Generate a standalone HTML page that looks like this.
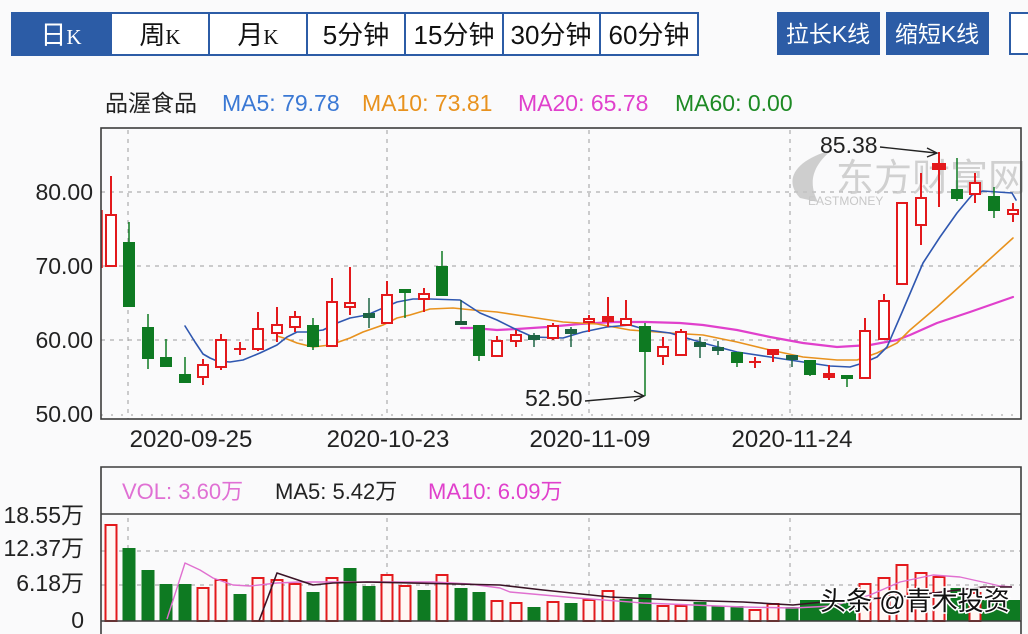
<!DOCTYPE html>
<html><head><meta charset="utf-8"><style>
html,body{margin:0;padding:0;background:#fafafb;}
body{width:1028px;height:634px;overflow:hidden;}
svg{display:block;}
text{font-family:"Liberation Sans","Noto Sans CJK SC",sans-serif;}
</style></head><body>
<svg width="1028" height="634" viewBox="0 0 1028 634" xmlns="http://www.w3.org/2000/svg">
<rect x="0" y="0" width="1028" height="634" fill="#fafafb"/>

<!-- Tabs -->
<g>
<rect x="12" y="13" width="686" height="42" fill="#fff" stroke="#2c5ca6" stroke-width="2"/>
<rect x="12" y="13" width="99" height="42" fill="#2c5ca6"/>
<g stroke="#2c5ca6" stroke-width="2">
<line x1="111" y1="13" x2="111" y2="55"/><line x1="209" y1="13" x2="209" y2="55"/>
<line x1="307" y1="13" x2="307" y2="55"/><line x1="405" y1="13" x2="405" y2="55"/>
<line x1="503" y1="13" x2="503" y2="55"/><line x1="600" y1="13" x2="600" y2="55"/>
</g>
<g font-size="26" text-anchor="middle">
<text x="61" y="44" fill="#fff">日<tspan font-family="Liberation Serif" font-size="21">K</tspan></text>
<text x="160" y="44" fill="#111">周<tspan font-family="Liberation Serif" font-size="21">K</tspan></text>
<text x="258" y="44" fill="#111">月<tspan font-family="Liberation Serif" font-size="21">K</tspan></text>
<text x="356" y="44" fill="#111">5分钟</text>
<text x="454" y="44" fill="#111">15分钟</text>
<text x="551" y="44" fill="#111">30分钟</text>
<text x="649" y="44" fill="#111">60分钟</text>
</g>
<rect x="777" y="12" width="103" height="43" fill="#2c5ca6"/>
<rect x="886" y="12" width="103" height="43" fill="#2c5ca6"/>
<rect x="1010" y="13" width="30" height="41" fill="#fff" stroke="#2c5ca6" stroke-width="2"/>
<g font-size="23" text-anchor="middle" fill="#fff">
<text x="828" y="42">拉长K线</text>
<text x="937" y="42">缩短K线</text>
</g>
</g>

<!-- Legend -->
<g font-size="23">
<text x="105" y="111" fill="#222">品渥食品</text>
<text x="222" y="111" fill="#3a78d4">MA5: 79.78</text>
<text x="362" y="111" fill="#e8921e">MA10: 73.81</text>
<text x="518" y="111" fill="#e040cc">MA20: 65.78</text>
<text x="675" y="111" fill="#1d8a24">MA60: 0.00</text>
</g>

<!-- Main chart grid -->
<g stroke="#9c9c9c" stroke-width="1" stroke-dasharray="4 5" fill="none">
<line x1="101" y1="192" x2="1020" y2="192"/>
<line x1="101" y1="266" x2="1020" y2="266"/>
<line x1="101" y1="340" x2="1020" y2="340"/>
<line x1="101" y1="415" x2="1020" y2="415" stroke-dasharray="2 8"/>
<line x1="128" y1="130" x2="128" y2="419"/>
<line x1="387" y1="130" x2="387" y2="419"/>
<line x1="589" y1="130" x2="589" y2="419"/>
<line x1="790" y1="130" x2="790" y2="419"/>
</g>

<!-- Watermark top -->
<g opacity="0.8">
<path d="M800 198 C783 180 795 160 832 150 C812 166 808 183 818 202 Z" fill="#c4c4c4"/>
<text x="836" y="191" font-size="38" fill="#c6c6c6">东方财富网</text>
<text x="808" y="205" font-size="12" fill="#bbb">EASTMONEY</text>
</g>

<!-- Y labels -->
<g font-size="23" fill="#222" text-anchor="end">
<text x="93" y="200">80.00</text>
<text x="93" y="274">70.00</text>
<text x="93" y="348">60.00</text>
<text x="93" y="422">50.00</text>
</g>
<g font-size="24" fill="#222" text-anchor="middle">
<text x="191" y="447">2020-09-25</text>
<text x="388" y="447">2020-10-23</text>
<text x="590" y="447">2020-11-09</text>
<text x="792" y="447">2020-11-24</text>
</g>

<!-- MA lines -->
<g fill="none" stroke-linejoin="round" stroke-linecap="round">
<polyline stroke="#e040cc" stroke-width="2.2" points="461,328 473,328 497,330 517,329 547,327 580,324 613,322 647,322 680,323 703,325 737,330 770,337 803,343 837,347 870,345 897,340 910,335 937,323 970,312 1013,297"/>
<polyline stroke="#e8921e" stroke-width="1.6" points="277,336 287,339 297,343 313,347 330,345 350,338 363,332 383,325 397,318 410,315 430,309 453,308 473,310 497,312 530,317 563,322 597,324 630,330 670,333 703,335 737,342 770,350 803,357 837,360 857,360 877,353 897,343 910,330 937,307 970,277 1013,238"/>
<polyline stroke="#2f57b0" stroke-width="1.6" points="185,326 195,342 203,354 210,358 217,361 230,362 243,360 260,353 277,345 287,337 297,332 307,332 323,330 337,323 350,318 367,315 383,308 397,302 413,299 430,299 460,300 480,313 497,320 513,328 533,337 563,338 583,332 607,327 630,325 647,330 670,333 703,343 737,352 770,357 803,362 830,366 850,367 863,363 877,357 887,347 903,310 923,263 940,237 957,213 972,195 983,191 1012,193 1016,200"/>
</g>

<!-- Green candles -->
<g fill="#0e7a22" stroke="#0e7a22" stroke-width="1.5">
<line x1="129" y1="222" x2="129" y2="307"/><rect x="123" y="242" width="12" height="65" stroke="none"/>
<line x1="148" y1="314" x2="148" y2="369"/><rect x="142" y="327" width="12" height="32" stroke="none"/>
<line x1="166" y1="339" x2="166" y2="367"/><rect x="160" y="357" width="12" height="10" stroke="none"/>
<line x1="185" y1="357" x2="185" y2="383"/><rect x="179" y="374" width="12" height="9" stroke="none"/>
<line x1="313" y1="318" x2="313" y2="350"/><rect x="307" y="325" width="12" height="22" stroke="none"/>
<line x1="369" y1="298" x2="369" y2="328" stroke="#1d6444"/><rect x="363" y="313" width="12" height="5" fill="#1d6444" stroke="none"/>
<line x1="405" y1="289" x2="405" y2="318"/><rect x="399" y="289" width="12" height="4" stroke="none"/>
<line x1="442" y1="251" x2="442" y2="296"/><rect x="436" y="266" width="12" height="30" stroke="none"/>
<line x1="461" y1="300" x2="461" y2="325" stroke="#1d5a3a"/><rect x="455" y="321" width="12" height="4" fill="#1d5a3a" stroke="none"/>
<line x1="479" y1="325" x2="479" y2="361"/><rect x="473" y="325" width="12" height="31" stroke="none"/>
<line x1="534" y1="333" x2="534" y2="347" stroke="#1d6444"/><rect x="528" y="335" width="12" height="5" fill="#1d6444" stroke="none"/>
<line x1="571" y1="327" x2="571" y2="347" stroke="#1d6444"/><rect x="565" y="329" width="12" height="5" fill="#1d6444" stroke="none"/>
<line x1="645" y1="323" x2="645" y2="396"/><rect x="639" y="326" width="12" height="26" stroke="none"/>
<line x1="700" y1="337" x2="700" y2="358" stroke="#1d6444"/><rect x="694" y="342" width="12" height="5" fill="#1d6444" stroke="none"/>
<line x1="718" y1="341" x2="718" y2="355" stroke="#1d6444"/><rect x="712" y="347" width="12" height="4" fill="#1d6444" stroke="none"/>
<line x1="737" y1="352" x2="737" y2="367"/><rect x="731" y="352" width="12" height="11" stroke="none"/>
<line x1="792" y1="355" x2="792" y2="367" stroke="#1d6444"/><rect x="786" y="355" width="12" height="5" fill="#1d6444" stroke="none"/>
<line x1="810" y1="360" x2="810" y2="376"/><rect x="804" y="360" width="12" height="15" stroke="none"/>
<line x1="847" y1="375" x2="847" y2="387"/><rect x="841" y="375" width="12" height="4" stroke="none"/>
<line x1="957" y1="158" x2="957" y2="201"/><rect x="951" y="189" width="12" height="10" stroke="none"/>
<line x1="994" y1="187" x2="994" y2="218"/><rect x="988" y="196" width="12" height="15" stroke="none"/>
</g>

<!-- Red candles -->
<g stroke="#e3191c" stroke-width="2" fill="#fff">
<line x1="102" y1="210" x2="102" y2="268" stroke-width="1.5"/>
<line x1="111" y1="176" x2="111" y2="266"/><rect x="106" y="215" width="10" height="51"/>
<line x1="203" y1="359" x2="203" y2="385"/><rect x="198" y="365" width="10" height="12"/>
<line x1="221" y1="334" x2="221" y2="370"/><rect x="216" y="340" width="10" height="27"/>
<line x1="240" y1="342" x2="240" y2="355"/><line x1="234" y1="349" x2="246" y2="349"/>
<line x1="258" y1="312" x2="258" y2="351"/><rect x="253" y="329" width="10" height="20"/>
<line x1="277" y1="307" x2="277" y2="342"/><rect x="272" y="325" width="10" height="8"/>
<line x1="295" y1="311" x2="295" y2="332"/><rect x="290" y="317" width="10" height="10"/>
<line x1="332" y1="278" x2="332" y2="347"/><rect x="327" y="302" width="10" height="44"/>
<line x1="350" y1="267" x2="350" y2="315"/><rect x="345" y="303" width="10" height="4"/>
<line x1="387" y1="281" x2="387" y2="323"/><rect x="382" y="295" width="10" height="28"/>
<line x1="424" y1="288" x2="424" y2="312"/><rect x="419" y="294" width="10" height="5"/>
<line x1="497" y1="336" x2="497" y2="356"/><rect x="492" y="341" width="10" height="15"/>
<line x1="516" y1="330" x2="516" y2="347"/><rect x="511" y="335" width="10" height="6"/>
<line x1="553" y1="323" x2="553" y2="340"/><rect x="548" y="326" width="10" height="12"/>
<line x1="589" y1="315" x2="589" y2="332"/><rect x="584" y="319" width="10" height="3"/>
<line x1="608" y1="297" x2="608" y2="327"/><rect x="603" y="317" width="10" height="4" fill="#e3191c"/>
<line x1="626" y1="300" x2="626" y2="325"/><rect x="621" y="319" width="10" height="6"/>
<line x1="663" y1="337" x2="663" y2="365"/><rect x="658" y="347" width="10" height="9"/>
<line x1="681" y1="329" x2="681" y2="356"/><rect x="676" y="332" width="10" height="23"/>
<line x1="755" y1="357" x2="755" y2="368"/><line x1="749" y1="362" x2="761" y2="362"/>
<line x1="773" y1="350" x2="773" y2="362"/><rect x="768" y="350" width="10" height="4" fill="#e3191c"/>
<line x1="829" y1="365" x2="829" y2="380"/><rect x="824" y="374" width="10" height="3" fill="#e3191c"/>
<line x1="865" y1="318" x2="865" y2="379"/><rect x="860" y="331" width="10" height="47"/>
<line x1="884" y1="294" x2="884" y2="339"/><rect x="879" y="301" width="10" height="38"/>
<rect x="897" y="203" width="10" height="81"/>
<line x1="921" y1="173" x2="921" y2="245"/><rect x="916" y="198" width="10" height="27"/>
<line x1="939" y1="152" x2="939" y2="207"/><rect x="933" y="164" width="12" height="5" fill="#e3191c"/>
<line x1="975" y1="173" x2="975" y2="203"/><rect x="970" y="183" width="10" height="11"/>
<line x1="1013" y1="203" x2="1013" y2="222"/><rect x="1008" y="210" width="10" height="4"/>
</g>

<!-- annotations -->
<g stroke="#222" stroke-width="1.4" fill="none">
<line x1="880" y1="147" x2="936" y2="153"/>
<polyline points="927,148 937,153 927,157"/>
<line x1="585" y1="401" x2="643" y2="396"/>
<polyline points="634,391 644,396 634,401"/>
</g>
<g font-size="23" fill="#222">
<text x="820" y="153">85.38</text>
<text x="525" y="406">52.50</text>
</g>

<!-- main frame -->
<rect x="101" y="128" width="920" height="291" fill="none" stroke="#3c3c3c" stroke-width="1.6"/>

<!-- Volume panel -->
<g stroke="#9c9c9c" stroke-width="1" stroke-dasharray="4 5" fill="none">
<line x1="101" y1="551" x2="1020" y2="551"/>
<line x1="101" y1="585" x2="1020" y2="585"/>
<line x1="128" y1="518" x2="128" y2="550"/>
<line x1="387" y1="518" x2="387" y2="621"/>
<line x1="589" y1="518" x2="589" y2="621"/>
<line x1="790" y1="518" x2="790" y2="621"/>
</g>
<g font-size="23" fill="#222" text-anchor="end">
<text x="84" y="523">18.55万</text>
<text x="84" y="556">12.37万</text>
<text x="84" y="591">6.18万</text>
<text x="84" y="628">0</text>
</g>
<g font-size="22">
<text x="122" y="499" fill="#e070d4">VOL: 3.60万</text>
<text x="275" y="499" fill="#222">MA5: 5.42万</text>
<text x="428" y="499" fill="#e040cc">MA10: 6.09万</text>
</g>

<!-- volume green bars -->
<g fill="#0e7a22">
<rect x="122.5" y="548" width="13" height="73"/>
<rect x="141.5" y="570" width="13" height="51"/>
<rect x="159.5" y="584" width="13" height="37"/>
<rect x="178.5" y="584" width="13" height="37"/>
<rect x="233.5" y="594" width="13" height="27"/>
<rect x="306.5" y="592" width="13" height="29"/>
<rect x="343.5" y="568" width="13" height="53"/>
<rect x="362.5" y="586" width="13" height="35"/>
<rect x="417.5" y="590" width="13" height="31"/>
<rect x="454.5" y="588" width="13" height="33"/>
<rect x="472.5" y="592" width="13" height="29"/>
<rect x="527.5" y="607" width="13" height="14"/>
<rect x="564.5" y="603" width="13" height="18"/>
<rect x="619.5" y="599" width="13" height="22"/>
<rect x="638.5" y="594" width="13" height="27"/>
<rect x="693.5" y="602" width="13" height="19"/>
<rect x="711.5" y="606" width="13" height="15"/>
<rect x="730.5" y="606" width="13" height="15"/>
<rect x="785.5" y="607" width="13" height="14"/>
<rect x="800" y="600" width="56" height="21"/>
<rect x="947" y="600" width="73" height="21"/>
<rect x="950.5" y="588" width="13" height="33"/>
</g>
<!-- volume red bars -->
<g fill="#fff7f4" stroke="#e3191c" stroke-width="2">
<rect x="105.5" y="525" width="11" height="96"/>
<rect x="197.5" y="588" width="11" height="33"/>
<rect x="215.5" y="580" width="11" height="41"/>
<rect x="252.5" y="578" width="11" height="43"/>
<rect x="271.5" y="580" width="11" height="41"/>
<rect x="289.5" y="584" width="11" height="37"/>
<rect x="326.5" y="578" width="11" height="43"/>
<rect x="381.5" y="575" width="11" height="46"/>
<rect x="399.5" y="586" width="11" height="35"/>
<rect x="436.5" y="575" width="11" height="46"/>
<rect x="491.5" y="601" width="11" height="20"/>
<rect x="510.5" y="603" width="11" height="18"/>
<rect x="547.5" y="602" width="11" height="19"/>
<rect x="583.5" y="600" width="11" height="21"/>
<rect x="602.5" y="591" width="11" height="30"/>
<rect x="657.5" y="606" width="11" height="15"/>
<rect x="675.5" y="606" width="11" height="15"/>
<rect x="749.5" y="610" width="11" height="11"/>
<rect x="767.5" y="604" width="11" height="17"/>
<rect x="859.5" y="584" width="11" height="37"/>
<rect x="878.5" y="578" width="11" height="43"/>
<rect x="896.5" y="565" width="11" height="56"/>
<rect x="915.5" y="573" width="11" height="48"/>
<rect x="933.5" y="577" width="11" height="44"/>
<rect x="969.5" y="593" width="11" height="28"/>
</g>

<!-- volume MA lines -->
<g fill="none" stroke-linejoin="round">
<polyline stroke="#e070d0" stroke-width="1.4" points="167,619 185,563 200,570 213,578 233,585 250,586 277,583 300,582 333,582 367,582 433,582 470,584 500,588 510,592 577,598 643,603 743,607 793,608 833,606 870,595 900,582 933,575 960,577 987,583 1000,586 1012,587"/>
<polyline stroke="#3a1426" stroke-width="1.6" points="259,621 277,573 313,585 333,583 367,582 500,585 543,590 610,597 677,600 743,602 793,605 833,601 900,597 950,591 983,587 1012,587"/>
</g>

<!-- volume frame -->
<g stroke="#3c3c3c" stroke-width="1.6" fill="none">
<polyline points="101,640 101,467 1021,467 1021,640"/>
<line x1="101" y1="514" x2="1021" y2="514"/>
<line x1="101" y1="621" x2="1021" y2="621"/>
</g>

<!-- bottom watermark -->
<text x="820" y="610" font-size="26" fill="#111" stroke="#fff" stroke-width="3" paint-order="stroke" font-family="'Noto Sans CJK SC',sans-serif">头条 @青木投资</text>
</svg>
</body></html>
